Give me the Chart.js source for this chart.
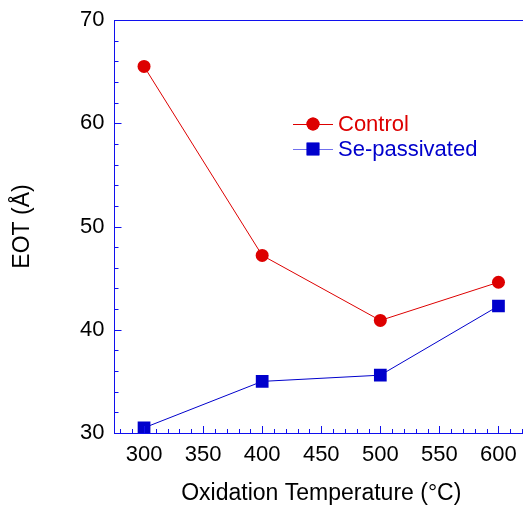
<!DOCTYPE html>
<html>
<head>
<meta charset="utf-8">
<script src="https://cdn.jsdelivr.net/npm/chart.js@4"></script>
<style>
  html, body { margin: 0; padding: 0; background: #fff; overflow: hidden; }
</style>
</head>
<body>
<canvas id="eotChart" width="528" height="508"></canvas>
<script>
// data
const temps = [300, 400, 500, 600];
const controlEOT = [65.5, 47.2, 40.9, 44.6];
const sePassEOT = [30.5, 35.0, 35.6, 42.3];
const xTicks = [300, 350, 400, 450, 500, 550, 600];
const yTicks = [30, 40, 50, 60, 70];

const RED = '#dd0000';
const BLUE = '#0000cc';
const AXIS = '#1010ee';
const FONT = '"Liberation Sans", Arial, sans-serif';

// inward ticks, top frame line and the in-plot legend
const framePlugin = {
    id: 'frame',
    afterDraw(chart) {
        const ctx = chart.ctx;
        const area = chart.chartArea;
        const x = chart.scales.x;
        const y = chart.scales.y;
        ctx.save();
        ctx.strokeStyle = AXIS;
        ctx.lineWidth = 1;
        ctx.beginPath();
        ctx.moveTo(area.left, area.top + 0.5);
        ctx.lineTo(area.right, area.top + 0.5);
        // x ticks every 10, major every 50
        for (let v = 280; v <= 620; v += 10) {
            const px = Math.round(x.getPixelForValue(v)) + 0.5;
            const len = v % 50 === 0 ? 7 : 4;
            ctx.moveTo(px, area.bottom);
            ctx.lineTo(px, area.bottom - len);
        }
        // y ticks every 2, major every 10
        for (let v = 32; v < 70; v += 2) {
            const py = Math.round(y.getPixelForValue(v)) + 0.5;
            const len = v % 10 === 0 ? 7 : 4;
            ctx.moveTo(area.left, py);
            ctx.lineTo(area.left + len, py);
        }
        ctx.stroke();

        // legend
        const items = [
            { text: 'Control', color: RED, line: RED, style: 'circle', r: 6.5, yy: 124 },
            { text: 'Se-passivated', color: BLUE, line: '#7070ee', style: 'rect', r: 9, yy: 149 }
        ];
        ctx.font = '22px ' + FONT;
        ctx.textBaseline = 'middle';
        items.forEach(it => {
            ctx.strokeStyle = it.line;
            ctx.beginPath();
            ctx.moveTo(293, it.yy + 0.5);
            ctx.lineTo(333, it.yy + 0.5);
            ctx.stroke();
            ctx.fillStyle = it.color;
            Chart.helpers.drawPoint(ctx, { pointStyle: it.style, radius: it.r, borderWidth: 0 }, 313, it.yy);
            ctx.fill();
            ctx.fillText(it.text, 338, it.yy + 1);
        });
        ctx.restore();
    }
};

new Chart(document.getElementById('eotChart'), {
    type: 'line',
    data: {
        datasets: [{
            label: 'Control',
            data: temps.map((t, i) => ({ x: t, y: controlEOT[i] })),
            borderColor: RED,
            backgroundColor: RED,
            borderWidth: 1,
            pointStyle: 'circle',
            pointRadius: 6.5,
            pointBorderWidth: 0,
            tension: 0
        },
        {
            label: 'Se-passivated',
            data: temps.map((t, i) => ({ x: t, y: sePassEOT[i] })),
            borderColor: BLUE,
            backgroundColor: BLUE,
            borderWidth: 1,
            pointStyle: 'rect',
            pointRadius: 9,
            pointBorderWidth: 0,
            tension: 0
        }]
    },
    options: {
        responsive: false,
        animation: false,
        layout: { autoPadding: false, padding: { top: 20, right: 0, left: 0, bottom: 0 } },
        plugins: {
            legend: { display: false },
            tooltip: { enabled: false }
        },
        scales: {
            x: {
                type: 'linear',
                min: 275,
                max: 625,
                afterBuildTicks: s => { s.ticks = xTicks.map(v => ({ value: v })); },
                afterFit: s => { s.height = 75; s.paddingLeft = 0; s.paddingRight = 0; },
                grid: { display: false, drawTicks: false },
                border: { display: true, color: AXIS, width: 1 },
                ticks: { color: '#000', padding: 9, font: { family: FONT, size: 22 } },
                title: {
                    display: true,
                    text: 'Oxidation Temperature (°C)',
                    color: '#000',
                    padding: { top: 0, bottom: 1 },
                    font: { family: FONT, size: 23 }
                }
            },
            y: {
                min: 30,
                max: 70,
                afterBuildTicks: s => { s.ticks = yTicks.map(v => ({ value: v })); },
                afterFit: s => { s.width = 114.5; s.paddingTop = 0; s.paddingBottom = 0; },
                grid: { display: false, drawTicks: false },
                border: { display: true, color: AXIS, width: 1 },
                ticks: { color: '#000', padding: 10, font: { family: FONT, size: 22 } },
                title: {
                    display: true,
                    text: 'EOT (Å)',
                    color: '#000',
                    padding: { top: 9, bottom: 0 },
                    font: { family: FONT, size: 23 }
                }
            }
        }
    },
    plugins: [framePlugin]
});
</script>
</body>
</html>
